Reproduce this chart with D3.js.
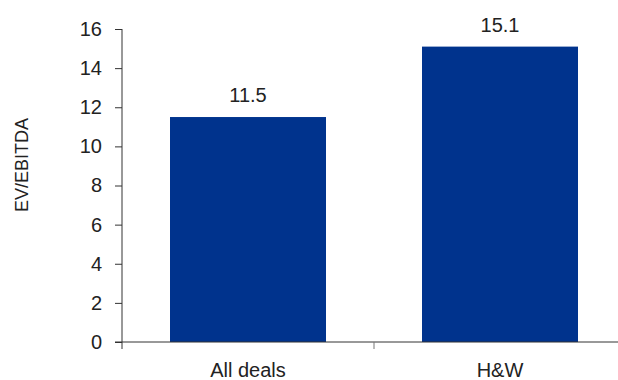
<!DOCTYPE html>
<html>
<head>
<meta charset="utf-8">
<script src="https://cdn.jsdelivr.net/npm/d3@7"></script>
<style>
  html, body { margin: 0; padding: 0; background: #fff; }
  svg text { font-family: "Liberation Sans", Arial, Helvetica, sans-serif; fill: #222; }
</style>
</head>
<body>
<svg id="chart" width="618" height="380"></svg>
<script>
// EV/EBITDA multiples by deal group
const categories = ["All deals", "H&W"];
const values = [11.5, 15.1];
const yTicks = [0, 2, 4, 6, 8, 10, 12, 14, 16];
const yLabel = "EV/EBITDA";

(function () {
  const svg = d3.select("#chart");
  const plotLeft = 122, plotRight = 626, plotTop = 29, plotBottom = 342;
  const tickLen = 7;
  const barColor = "#00338d";
  const axisColor = "#333";

  const x = d3.scaleBand().domain(categories).range([plotLeft, plotRight]).paddingInner(0).paddingOuter(0);
  const y = d3.scaleLinear().domain([0, 16]).range([plotBottom, plotTop]);
  const barPad = 48; // gap between band edge and bar

  // y axis ticks and labels
  const yAxis = d3.axisLeft(y).tickValues(yTicks).tickSize(tickLen).tickPadding(13).tickFormat(d3.format("d"));
  const gy = svg.append("g").attr("transform", `translate(${plotLeft},0)`).call(yAxis);
  gy.attr("font-size", null).attr("font-family", null);
  gy.select(".domain").remove();
  gy.selectAll(".tick line").attr("stroke", axisColor);
  gy.selectAll(".tick text").style("font-size", "20px").attr("fill", "#222");

  // vertical axis line, continuing below zero as the first category tick
  svg.append("line")
    .attr("x1", plotLeft).attr("x2", plotLeft)
    .attr("y1", y(16)).attr("y2", y(0) + tickLen)
    .attr("stroke", axisColor);

  // bars
  svg.selectAll("rect.bar").data(values).join("rect")
    .attr("class", "bar")
    .attr("x", (d, i) => x(categories[i]) + barPad)
    .attr("width", x.bandwidth() - 2 * barPad)
    .attr("y", d => y(d))
    .attr("height", d => y(0) - y(d))
    .attr("fill", barColor);

  // value labels
  svg.selectAll("text.val").data(values).join("text")
    .attr("class", "val")
    .attr("x", (d, i) => x(categories[i]) + x.bandwidth() / 2)
    .attr("y", d => y(d) - 15)
    .attr("text-anchor", "middle")
    .style("font-size", "20px")
    .text(d => d.toFixed(1));

  // x axis line
  svg.append("line")
    .attr("x1", plotLeft - tickLen).attr("x2", 618)
    .attr("y1", y(0)).attr("y2", y(0))
    .attr("stroke", axisColor);

  // category boundary ticks
  const bounds = categories.map(c => x(c)).concat([x(categories[categories.length - 1]) + x.bandwidth()]);
  svg.selectAll("line.xt").data(bounds.slice(1)).join("line")
    .attr("class", "xt")
    .attr("x1", d => d).attr("x2", d => d)
    .attr("y1", y(0)).attr("y2", y(0) + tickLen)
    .attr("stroke", "#777");

  // category labels
  svg.selectAll("text.cat").data(categories).join("text")
    .attr("class", "cat")
    .attr("x", d => x(d) + x.bandwidth() / 2)
    .attr("y", 377)
    .attr("text-anchor", "middle")
    .style("font-size", "20px")
    .text(d => d);

  // y axis title
  svg.append("text")
    .attr("transform", "translate(28,165) rotate(-90)")
    .attr("text-anchor", "middle")
    .style("font-size", "18px")
    .text(yLabel);
})();
</script>
</body>
</html>
